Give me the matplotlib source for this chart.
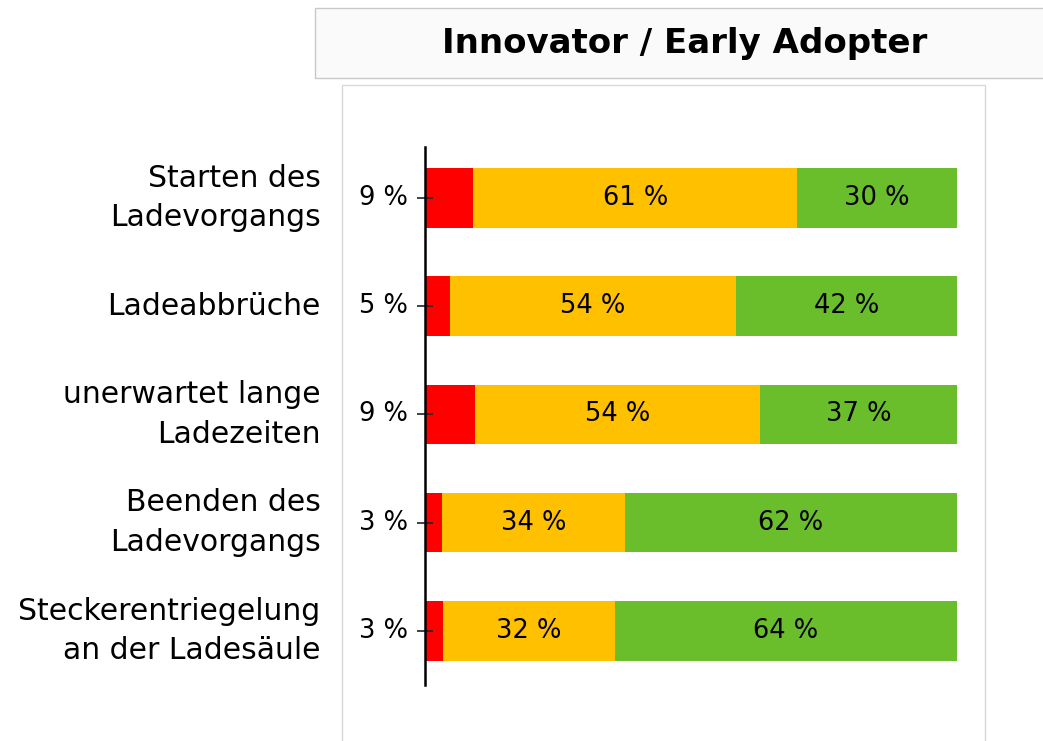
import matplotlib.pyplot as plt
from matplotlib.patches import Rectangle

plt.rcParams['font.family'] = ['DejaVu Sans']

categories = ['Starten des\nLadevorgangs', 'Ladeabbrüche', 'unerwartet lange\nLadezeiten',
              'Beenden des\nLadevorgangs', 'Steckerentriegelung\nan der Ladesäule']
red = [9, 5, 9, 3, 3]
yellow = [61, 54, 54, 34, 32]
green = [30, 42, 37, 62, 64]
# drawn widths
red_w = [9.0, 4.7, 9.4, 3.2, 3.4]
yellow_w = [61.0, 53.8, 53.6, 34.4, 32.3]
green_w = [30.0, 41.5, 37.0, 62.4, 64.3]

W, H = 1043, 741
fig = plt.figure(figsize=(W / 100, H / 100), dpi=100)

# title box and plot-area frame
fig.patches.append(Rectangle((315 / W, 1 - 78 / H), 740 / W, 70 / H, transform=fig.transFigure,
                             facecolor='#fafafa', edgecolor='#c8c8c8', lw=1, zorder=-2))
fig.patches.append(Rectangle((342 / W, -0.05), 643 / W, 1 - 85 / H + 0.05, transform=fig.transFigure,
                             facecolor='white', edgecolor='#d9d9d9', lw=1, zorder=-2))
fig.text(685 / W, 1 - 43 / H, 'Innovator / Early Adopter', ha='center', va='center',
         fontsize=24.5, fontweight='bold')

ax = fig.add_axes([425 / W, 1 - 685 / H, (957 - 425) / W, (685 - 147) / H])
y = list(range(len(categories)))
h = 0.55
ax.barh(y, red_w, height=h, color='#ff0000')
ax.barh(y, yellow_w, left=red_w, height=h, color='#ffc000')
left2 = [a + b for a, b in zip(red_w, yellow_w)]
ax.barh(y, green_w, left=left2, height=h, color='#6abd2b')

for i in y:
    ax.text(red_w[i] + yellow_w[i] / 2, i, f'{yellow[i]} %', ha='center', va='center', fontsize=18.5)
    ax.text(left2[i] + green_w[i] / 2, i, f'{green[i]} %', ha='center', va='center', fontsize=18.5)
    ax.text(-3.2, i, f'{red[i]} %', ha='right', va='center', fontsize=18.5)
    ax.text(-19.6, i, categories[i], ha='right', va='center', fontsize=21.5, linespacing=1.45)

ax.set_xlim(0, 100)
ax.set_ylim(4.5, -0.47)
ax.set_yticks(y)
ax.set_yticklabels([])
ax.tick_params(axis='y', direction='inout', length=12, width=1.2, color='#222222')
ax.set_xticks([])
for s in ['top', 'right', 'bottom']:
    ax.spines[s].set_visible(False)
ax.spines['left'].set_linewidth(1.8)
ax.spines['left'].set_zorder(5)
ax.patch.set_alpha(0)

fig.savefig('out.png', dpi=100)
